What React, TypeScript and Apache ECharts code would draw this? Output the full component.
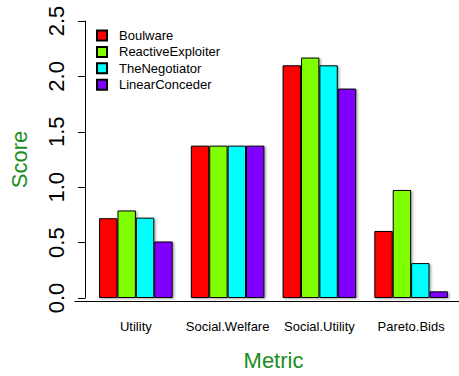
import React, { useEffect, useRef } from "react";
import * as echarts from "echarts";

const categories = ["Utility", "Social.Welfare", "Social.Utility", "Pareto.Bids"];
const seriesNames = ["Boulware", "ReactiveExploiter", "TheNegotiator", "LinearConceder"];
const boulware = [0.72, 1.375, 2.1, 0.605];
const reactiveExploiter = [0.79, 1.375, 2.17, 0.975];
const theNegotiator = [0.725, 1.375, 2.1, 0.315];
const linearConceder = [0.51, 1.375, 1.89, 0.06];
const colors = ["#FF0000", "#80FF00", "#00FFFF", "#8000FF"];
const yTicks = [0, 0.5, 1, 1.5, 2, 2.5];

const FONT = "Liberation Sans, Arial, Helvetica, sans-serif";
const GREEN = "#1C8C1C";

export default function App() {
  const ref = useRef<HTMLDivElement>(null);
  useEffect(() => {
    if (!ref.current) return;
    const chart = echarts.init(ref.current, null, { renderer: "svg" });
    const values = [boulware, reactiveExploiter, theNegotiator, linearConceder];
    chart.setOption({
      animation: false,
      backgroundColor: "#ffffff",
      textStyle: { fontFamily: FONT },
      legend: {
        orient: "vertical",
        left: 96,
        top: 29,
        padding: 0,
        itemWidth: 10,
        itemHeight: 10,
        itemGap: 3.4,
        icon: "rect",
        data: seriesNames,
        textStyle: { fontSize: 13, color: "#000", fontFamily: FONT, lineHeight: 13, padding: [0, 0, 0, 7] },
      },
      grid: [
        { left: 89, right: 2, top: 21, bottom: 75, containLabel: false },
        { left: 75, right: 0, top: 21, bottom: 75, containLabel: false },
      ],
      xAxis: [
        {
          type: "category",
          gridIndex: 0,
          data: categories,
          axisLine: { show: false },
          axisTick: { show: false },
          axisLabel: { fontSize: 13, color: "#000", margin: 22, fontFamily: FONT, interval: 0 },
          name: "Metric",
          nameLocation: "middle",
          nameGap: 51,
          nameTextStyle: { fontSize: 22, color: GREEN, fontFamily: FONT },
        },
        {
          type: "value",
          gridIndex: 1,
          min: 0,
          max: 1,
          axisLine: { show: true, lineStyle: { color: "#000", width: 1 } },
          axisTick: { show: false },
          axisLabel: { show: false },
          splitLine: { show: false },
        },
      ],
      yAxis: [
        {
          type: "value",
          gridIndex: 0,
          min: yTicks[0],
          max: yTicks[yTicks.length - 1],
          interval: 0.5,
          offset: 5,
          axisLine: { show: true, lineStyle: { color: "#000", width: 1 } },
          axisTick: { show: true, length: 7, lineStyle: { color: "#000" } },
          axisLabel: {
            rotate: 90,
            fontSize: 22,
            color: "#000",
            margin: 18,
            fontFamily: FONT,
            formatter: (v: number) => v.toFixed(1),
          },
          splitLine: { show: false },
          name: "Score",
          nameLocation: "middle",
          nameGap: 55,
          nameTextStyle: { fontSize: 22, color: GREEN, fontFamily: FONT },
        },
        { type: "value", gridIndex: 1, show: false, min: 0, max: 1 },
      ],
      series: seriesNames.map((name, i) => ({
        name,
        type: "bar",
        xAxisIndex: 0,
        yAxisIndex: 0,
        data: values[i],
        barWidth: 18.4,
        barGap: "0%",
        itemStyle: {
          color: colors[i],
          borderColor: "#000",
          borderWidth: 1,
          shadowColor: "rgba(0,0,0,0.35)",
          shadowBlur: 2,
          shadowOffsetX: 1.5,
          shadowOffsetY: 1,
        },
      })),
    });
    return () => chart.dispose();
  }, []);
  return <div ref={ref} style={{ width: 459, height: 376, position: "absolute", left: 0, top: 0 }} />;
}
